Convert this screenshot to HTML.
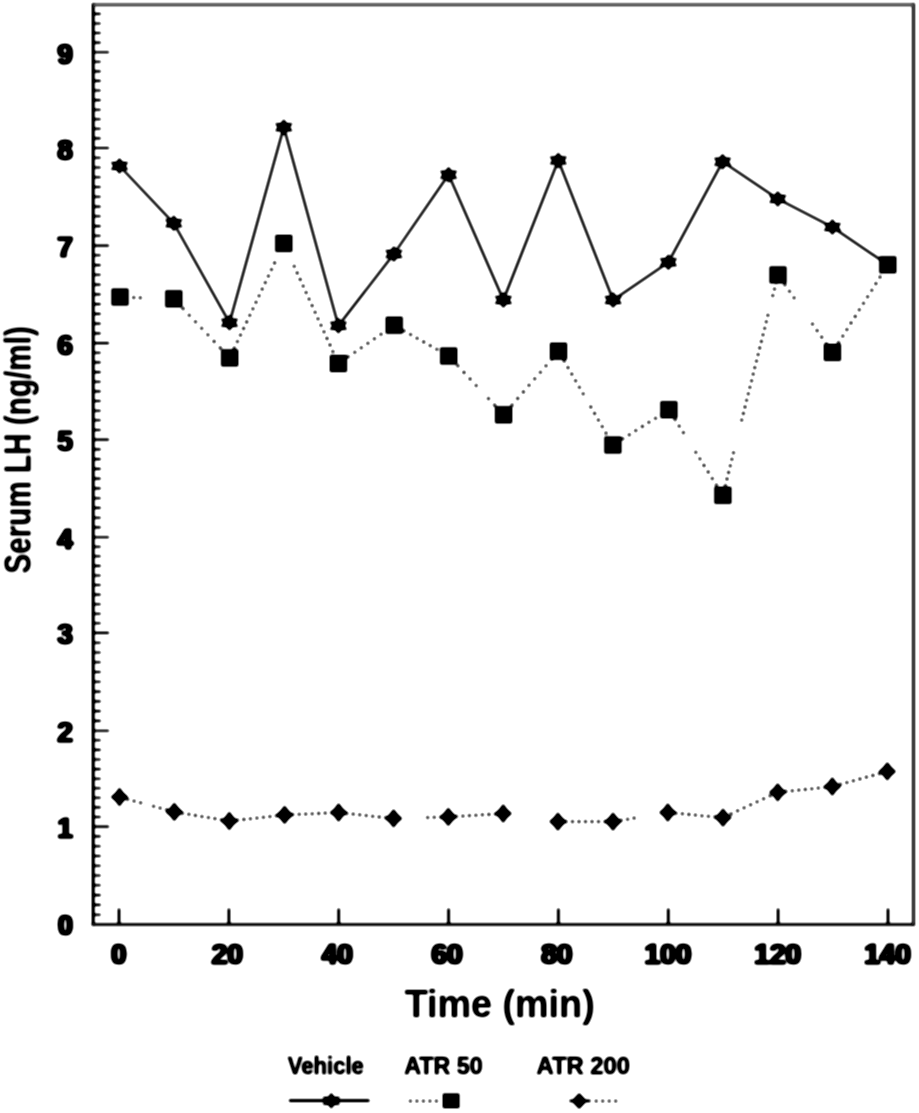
<!DOCTYPE html>
<html lang="en"><head><meta charset="utf-8"><title>Serum LH</title>
<style>html,body{margin:0;padding:0;background:#fff}body{width:919px;height:1113px;overflow:hidden}svg{display:block}text{font-family:"Liberation Sans",sans-serif;font-weight:bold;fill:#000}.tk{font-size:29.5px;stroke:#000;stroke-width:0.7px;stroke-linejoin:round;text-shadow:1px 0 0 #000,-1px 0 0 #000}.dt{fill:none;stroke:#111;stroke-linecap:round}.lg{font-size:24.5px;stroke:#000;stroke-width:0.5px}</style>
</head><body>
<svg width="919" height="1113" viewBox="0 0 919 1113">
<rect width="919" height="1113" fill="#fff"/>
<defs><filter id="soft" x="0" y="0" width="919" height="1113" filterUnits="userSpaceOnUse"><feGaussianBlur stdDeviation="0.9"/><feComponentTransfer><feFuncA type="linear" slope="1.7" intercept="-0.2"/></feComponentTransfer></filter></defs>
<g filter="url(#soft)">
<g stroke-linecap="butt" fill="none">
<line x1="92" y1="4.7" x2="915" y2="4.7" stroke="#646464" stroke-width="2.9"/>
<line x1="913.5" y1="3.2" x2="913.5" y2="925.7" stroke="#3a3a3a" stroke-width="3"/>
<line x1="93.2" y1="3.2" x2="93.2" y2="925.7" stroke="#000" stroke-width="2.7"/>
<line x1="91.7" y1="924.5" x2="915" y2="924.5" stroke="#111" stroke-width="2.5"/>
<path d="M93 914.7H100.7M93 904.9H100.7M93 895.1H100.7M93 885.3H100.7M93 875.5H100.7M93 865.8H100.7M93 856.0H100.7M93 846.2H100.7M93 836.4H100.7M93 826.6H109M93 817.0H100.7M93 807.4H100.7M93 797.8H100.7M93 788.2H100.7M93 778.7H100.7M93 769.1H100.7M93 759.5H100.7M93 749.9H100.7M93 740.3H100.7M93 730.7H109M93 720.9H100.7M93 711.1H100.7M93 701.4H100.7M93 691.6H100.7M93 681.8H100.7M93 672.0H100.7M93 662.2H100.7M93 652.5H100.7M93 642.7H100.7M93 632.9H109M93 623.3H100.7M93 613.8H100.7M93 604.2H100.7M93 594.6H100.7M93 585.0H100.7M93 575.5H100.7M93 565.9H100.7M93 556.3H100.7M93 546.8H100.7M93 537.2H109M93 527.4H100.7M93 517.7H100.7M93 507.9H100.7M93 498.2H100.7M93 488.4H100.7M93 478.6H100.7M93 468.9H100.7M93 459.1H100.7M93 449.4H100.7M93 439.6H109M93 430.0H100.7M93 420.3H100.7M93 410.7H100.7M93 401.0H100.7M93 391.4H100.7M93 381.7H100.7M93 372.1H100.7M93 362.4H100.7M93 352.8H100.7M93 343.1H109M93 333.4H100.7M93 323.6H100.7M93 313.9H100.7M93 304.1H100.7M93 294.4H100.7M93 284.6H100.7M93 274.8H100.7M93 265.1H100.7M93 255.3H100.7M93 245.6H109M93 235.8H100.7M93 226.1H100.7M93 216.3H100.7M93 206.6H100.7M93 196.8H100.7M93 187.0H100.7M93 177.3H100.7M93 167.5H100.7M93 157.8H100.7M93 148.0H109M93 138.4H100.7M93 128.8H100.7M93 119.3H100.7M93 109.7H100.7M93 100.1H100.7M93 90.5H100.7M93 80.9H100.7M93 71.4H100.7M93 61.8H100.7M93 52.2H109M93 42.6H100.7M93 33.0H100.7M93 23.5H100.7M93 13.9H100.7" stroke="#000" stroke-width="2.1"/>
<path d="M119.0 908.5V924.5M228.9 908.5V924.5M338.7 908.5V924.5M448.6 908.5V924.5M558.4 908.5V924.5M668.3 908.5V924.5M778.1 908.5V924.5M888.0 908.5V924.5" stroke="#000" stroke-width="2.5"/>
</g>
<text class="tk" transform="translate(72.8 935.4) scale(0.9 1)" text-anchor="end">0</text>
<text class="tk" transform="translate(72.8 838.1) scale(0.94 1)" text-anchor="end">1</text>
<text class="tk" transform="translate(72.8 742.2) scale(0.94 1)" text-anchor="end">2</text>
<text class="tk" transform="translate(72.8 644.4) scale(0.94 1)" text-anchor="end">3</text>
<text class="tk" transform="translate(72.8 548.7) scale(0.94 1)" text-anchor="end">4</text>
<text class="tk" transform="translate(72.8 451.1) scale(0.94 1)" text-anchor="end">5</text>
<text class="tk" transform="translate(72.8 354.6) scale(0.94 1)" text-anchor="end">6</text>
<text class="tk" transform="translate(72.8 257.1) scale(0.94 1)" text-anchor="end">7</text>
<text class="tk" transform="translate(72.8 159.5) scale(0.94 1)" text-anchor="end">8</text>
<text class="tk" transform="translate(72.8 63.7) scale(0.94 1)" text-anchor="end">9</text>
<text class="tk" transform="translate(118.8 964.4) scale(0.92 1)" text-anchor="middle">0</text>
<text class="tk" transform="translate(227.4 964.4) scale(0.95 1)" text-anchor="middle">20</text>
<text class="tk" transform="translate(337.2 964.4) scale(0.95 1)" text-anchor="middle">40</text>
<text class="tk" transform="translate(447.1 964.4) scale(0.95 1)" text-anchor="middle">60</text>
<text class="tk" transform="translate(556.9 964.4) scale(0.95 1)" text-anchor="middle">80</text>
<text class="tk" transform="translate(667.9 964.4) scale(0.95 1)" text-anchor="middle">100</text>
<text class="tk" transform="translate(777.7 964.4) scale(0.95 1)" text-anchor="middle">120</text>
<text class="tk" transform="translate(887.6 964.4) scale(0.95 1)" text-anchor="middle">140</text>
<text x="499.7" y="1016.5" text-anchor="middle" font-size="39" textLength="190" lengthAdjust="spacingAndGlyphs">Time (min)</text>
<text transform="translate(30.5 573.6) rotate(-90)" font-size="36" textLength="247.3" lengthAdjust="spacingAndGlyphs">Serum LH (ng/ml)</text>
<text class="lg" x="287.8" y="1073.6" textLength="76" lengthAdjust="spacingAndGlyphs">Vehicle</text>
<text class="lg" x="404.2" y="1073.6" textLength="78.5" lengthAdjust="spacingAndGlyphs">ATR 50</text>
<text class="lg" x="536.6" y="1073.6" textLength="93.3" lengthAdjust="spacingAndGlyphs">ATR 200</text>
<line x1="289" y1="1100.7" x2="369.5" y2="1100.7" stroke="#000" stroke-width="2.8"/>
<g fill="#000">
<polygon points="331.3,1092.8 334.3,1096.7 340.1,1096.8 337.3,1100.8 340.1,1104.8 334.3,1104.9 331.3,1108.8 328.3,1104.9 322.5,1104.8 325.3,1100.8 322.5,1096.8 328.3,1096.7"/>
<rect x="442.8" y="1093.5" width="16.6" height="14.6"/>
<polygon points="579.2,1092.9 583.0,1096.9 586.8,1100.9 583.0,1104.9 579.2,1108.9 575.4,1104.9 571.6,1100.9 575.4,1096.9"/>
<rect x="569.5" y="1099.6" width="21" height="2.6"/>
<path class="dt" stroke-width="3" d="M410.4 1100.9h0M416.9 1100.9h0M423.4 1100.9h0M429.9 1100.9h0M436.4 1100.9h0"/>
<path class="dt" stroke-width="3" d="M596.2 1100.9h0M602.7 1100.9h0M609.2 1100.9h0M615.7 1100.9h0"/>
</g>
<polyline fill="none" stroke="#000" stroke-width="2.1" stroke-linejoin="miter" points="119.5,165.9 173.8,223.3 229.5,322.7 283.8,127.2 338.4,325.7 393.9,254.0 448.6,174.7 503.4,300.0 558.3,160.4 613.1,300.0 668.4,262.3 722.6,161.7 777.8,198.9 832.4,227.1 887.8,264.8"/>
<path class="dt" stroke-width="3.1" d="M133.8 297.5h0M140.3 297.7h0M176.9 302.1h0M183.1 308.6h0M189.3 315.2h0M195.5 321.7h0M201.7 328.3h0M207.9 334.8h0M214.1 341.4h0M220.3 347.9h0M226.5 354.5h0M231.2 354.6h0M234.3 348.1h0M237.4 341.5h0M240.5 335.0h0M243.6 328.4h0M246.7 321.9h0M249.8 315.3h0M252.9 308.8h0M256.0 302.2h0M259.1 295.7h0M262.2 289.1h0M265.3 282.6h0M268.4 276.0h0M271.5 269.5h0M274.6 262.9h0M294.2 266.3h0M297.2 272.9h0M300.2 279.4h0M303.2 286.0h0M306.1 292.5h0M309.1 299.1h0M312.1 305.6h0M315.1 312.2h0M318.0 318.7h0M321.0 325.3h0M324.0 331.8h0M327.0 338.4h0M330.0 344.9h0M332.9 351.5h0M335.9 358.0h0M341.7 361.3h0M348.2 356.8h0M354.8 352.3h0M361.3 347.8h0M367.9 343.3h0M374.4 338.8h0M381.0 334.3h0M387.5 329.8h0M394.1 325.3h0M397.5 327.1h0M404.0 330.8h0M410.6 334.5h0M417.1 338.2h0M423.7 341.9h0M430.2 345.6h0M436.8 349.3h0M443.3 353.0h0M451.8 359.3h0M457.9 365.8h0M464.0 372.4h0M470.1 378.9h0M476.2 385.5h0M488.5 398.6h0M494.6 405.1h0M500.7 411.7h0M506.4 411.5h0M512.1 405.0h0M517.7 398.4h0M523.4 391.9h0M529.0 385.3h0M534.7 378.8h0M540.4 372.2h0M546.0 365.7h0M551.7 359.1h0M557.3 352.6h0M560.4 354.5h0M564.2 361.0h0M568.0 367.6h0M571.8 374.1h0M575.6 380.7h0M579.4 387.2h0M583.2 393.8h0M590.8 406.9h0M594.6 413.4h0M598.4 420.0h0M602.2 426.5h0M606.0 433.1h0M609.8 439.6h0M616.2 442.9h0M622.7 438.8h0M629.3 434.7h0M635.8 430.5h0M642.4 426.4h0M648.9 422.3h0M655.5 418.2h0M662.0 414.0h0M668.6 409.9h0M671.0 413.0h0M675.1 419.5h0M679.2 426.1h0M683.4 432.6h0M695.8 452.3h0M699.9 458.8h0M704.0 465.4h0M708.2 471.9h0M712.3 478.5h0M716.4 485.0h0M720.6 491.6h0M723.7 492.0h0M725.4 485.5h0M727.0 478.9h0M728.6 472.4h0M730.3 465.8h0M731.9 459.3h0M733.5 452.7h0M741.7 420.0h0M743.4 413.4h0M745.0 406.9h0M746.6 400.3h0M748.3 393.8h0M749.9 387.2h0M751.6 380.7h0M753.2 374.1h0M754.8 367.6h0M756.5 361.0h0M758.1 354.5h0M759.7 347.9h0M761.4 341.4h0M763.0 334.8h0M764.7 328.3h0M766.3 321.7h0M767.9 315.2h0M772.8 295.5h0M774.5 289.0h0M776.1 282.4h0M777.8 275.9h0M780.3 278.2h0M784.9 284.7h0M789.5 291.3h0M794.1 297.8h0M812.5 324.0h0M817.1 330.6h0M821.7 337.1h0M826.3 343.7h0M830.9 350.2h0M834.5 349.1h0M838.6 342.6h0M842.8 336.0h0M846.9 329.5h0M851.0 322.9h0M855.2 316.4h0M859.3 309.8h0M863.5 303.3h0M867.6 296.7h0M871.8 290.2h0M875.9 283.6h0M880.0 277.1h0M884.2 270.5h0"/>
<path class="dt" stroke-width="3.1" d="M121.1 797.4h0M127.6 799.2h0M134.1 801.0h0M140.6 802.7h0M153.6 806.3h0M160.1 808.0h0M166.6 809.8h0M173.1 811.6h0M175.9 812.2h0M182.4 813.2h0M188.9 814.3h0M195.4 815.4h0M201.9 816.5h0M208.4 817.5h0M214.9 818.6h0M221.4 819.7h0M227.9 820.8h0M230.9 820.8h0M237.4 820.1h0M243.9 819.4h0M250.4 818.7h0M256.9 818.0h0M263.4 817.2h0M269.9 816.5h0M276.4 815.8h0M282.9 815.1h0M286.2 814.8h0M292.7 814.5h0M299.2 814.3h0M305.7 814.0h0M312.2 813.7h0M318.7 813.4h0M325.2 813.1h0M331.7 812.8h0M338.2 812.5h0M340.2 812.7h0M346.7 813.4h0M353.2 814.1h0M359.7 814.8h0M366.2 815.5h0M372.7 816.2h0M379.2 816.9h0M385.7 817.6h0M392.2 818.2h0M427.7 817.5h0M434.2 817.3h0M440.7 817.1h0M447.2 816.9h0M449.9 816.8h0M456.4 816.4h0M462.9 816.0h0M469.4 815.6h0M475.9 815.2h0M482.4 814.8h0M488.9 814.4h0M495.4 814.0h0M501.9 813.6h0M559.5 821.6h0M566.0 821.6h0M572.5 821.6h0M579.0 821.6h0M585.5 821.6h0M592.0 821.6h0M598.5 821.6h0M605.0 821.6h0M611.5 821.6h0M614.6 821.3h0M621.1 820.3h0M627.6 819.2h0M634.1 818.1h0M669.4 812.6h0M675.9 813.2h0M682.4 813.8h0M688.9 814.4h0M695.4 815.0h0M701.9 815.7h0M708.4 816.3h0M714.9 816.9h0M721.4 817.5h0M724.6 816.9h0M731.1 813.9h0M737.6 810.8h0M744.1 807.8h0M750.6 804.8h0M757.1 801.8h0M763.6 798.8h0M770.1 795.8h0M776.6 792.8h0M779.3 792.1h0M785.8 791.4h0M792.3 790.7h0M798.8 790.1h0M805.3 789.4h0M811.8 788.7h0M818.3 788.0h0M824.8 787.3h0M831.3 786.6h0M833.9 786.1h0M840.4 784.3h0M846.9 782.5h0M853.4 780.7h0M859.9 778.9h0M866.4 777.1h0M872.9 775.4h0M879.4 773.6h0M885.9 771.8h0"/>
<g fill="#000">
<polygon points="119.5,157.9 122.6,161.7 128.3,161.9 125.7,165.9 128.3,169.9 122.6,170.1 119.5,173.9 116.4,170.1 110.7,169.9 113.3,165.9 110.7,161.9 116.4,161.7"/>
<polygon points="173.8,215.3 176.9,219.1 182.6,219.3 180.0,223.3 182.6,227.3 176.9,227.5 173.8,231.3 170.7,227.5 165.0,227.3 167.6,223.3 165.0,219.3 170.7,219.1"/>
<polygon points="229.5,314.7 232.6,318.5 238.3,318.7 235.7,322.7 238.3,326.7 232.6,326.9 229.5,330.7 226.4,326.9 220.7,326.7 223.3,322.7 220.7,318.7 226.4,318.5"/>
<polygon points="283.8,119.2 286.9,123.0 292.6,123.2 290.0,127.2 292.6,131.2 286.9,131.4 283.8,135.2 280.7,131.4 275.0,131.2 277.6,127.2 275.0,123.2 280.7,123.0"/>
<polygon points="338.4,317.7 341.5,321.5 347.2,321.7 344.6,325.7 347.2,329.7 341.5,329.9 338.4,333.7 335.3,329.9 329.6,329.7 332.2,325.7 329.6,321.7 335.3,321.5"/>
<polygon points="393.9,246.0 397.0,249.8 402.7,250.0 400.1,254.0 402.7,258.0 397.0,258.2 393.9,262.0 390.8,258.2 385.1,258.0 387.7,254.0 385.1,250.0 390.8,249.8"/>
<polygon points="448.6,166.7 451.7,170.5 457.4,170.7 454.8,174.7 457.4,178.7 451.7,178.9 448.6,182.7 445.5,178.9 439.8,178.7 442.4,174.7 439.8,170.7 445.5,170.5"/>
<polygon points="503.4,292.0 506.5,295.8 512.2,296.0 509.6,300.0 512.2,304.0 506.5,304.2 503.4,308.0 500.3,304.2 494.6,304.0 497.2,300.0 494.6,296.0 500.3,295.8"/>
<polygon points="558.3,152.4 561.4,156.2 567.1,156.4 564.5,160.4 567.1,164.4 561.4,164.6 558.3,168.4 555.2,164.6 549.5,164.4 552.1,160.4 549.5,156.4 555.2,156.2"/>
<polygon points="613.1,292.0 616.2,295.8 621.9,296.0 619.3,300.0 621.9,304.0 616.2,304.2 613.1,308.0 610.0,304.2 604.3,304.0 606.9,300.0 604.3,296.0 610.0,295.8"/>
<polygon points="668.4,254.3 671.5,258.1 677.2,258.3 674.6,262.3 677.2,266.3 671.5,266.5 668.4,270.3 665.3,266.5 659.6,266.3 662.2,262.3 659.6,258.3 665.3,258.1"/>
<polygon points="722.6,153.7 725.7,157.5 731.4,157.7 728.8,161.7 731.4,165.7 725.7,165.9 722.6,169.7 719.5,165.9 713.8,165.7 716.4,161.7 713.8,157.7 719.5,157.5"/>
<polygon points="777.8,190.9 780.9,194.7 786.6,194.9 784.0,198.9 786.6,202.9 780.9,203.1 777.8,206.9 774.7,203.1 769.0,202.9 771.6,198.9 769.0,194.9 774.7,194.7"/>
<polygon points="832.4,219.1 835.5,222.9 841.2,223.1 838.6,227.1 841.2,231.1 835.5,231.3 832.4,235.1 829.3,231.3 823.6,231.1 826.2,227.1 823.6,223.1 829.3,222.9"/>
<rect x="111.5" y="288.5" width="17.0" height="17.0"/>
<rect x="165.3" y="290.3" width="17.0" height="17.0"/>
<rect x="221.2" y="349.4" width="17.0" height="17.0"/>
<rect x="275.3" y="234.9" width="17.0" height="17.0"/>
<rect x="329.9" y="355.0" width="17.0" height="17.0"/>
<rect x="385.7" y="316.7" width="17.0" height="17.0"/>
<rect x="440.2" y="347.5" width="17.0" height="17.0"/>
<rect x="495.1" y="406.3" width="17.0" height="17.0"/>
<rect x="550.0" y="342.7" width="17.0" height="17.0"/>
<rect x="604.4" y="436.5" width="17.0" height="17.0"/>
<rect x="660.4" y="401.2" width="17.0" height="17.0"/>
<rect x="714.4" y="486.8" width="17.0" height="17.0"/>
<rect x="769.5" y="266.4" width="17.0" height="17.0"/>
<rect x="823.9" y="343.9" width="17.0" height="17.0"/>
<rect x="879.3" y="256.3" width="17.0" height="17.0"/>
<polygon points="119.5,787.6 123.5,792.7 128.2,797.0 123.5,801.3 119.5,806.4 115.5,801.3 110.8,797.0 115.5,792.7"/>
<polygon points="174.3,802.5 178.3,807.6 183.0,811.9 178.3,816.2 174.3,821.3 170.3,816.2 165.6,811.9 170.3,807.6"/>
<polygon points="229.3,811.6 233.3,816.7 238.0,821.0 233.3,825.3 229.3,830.4 225.3,825.3 220.6,821.0 225.3,816.7"/>
<polygon points="284.6,805.5 288.6,810.6 293.3,814.9 288.6,819.2 284.6,824.3 280.6,819.2 275.9,814.9 280.6,810.6"/>
<polygon points="338.6,803.1 342.6,808.2 347.3,812.5 342.6,816.8 338.6,821.9 334.6,816.8 329.9,812.5 334.6,808.2"/>
<polygon points="393.6,809.0 397.6,814.1 402.3,818.4 397.6,822.7 393.6,827.8 389.6,822.7 384.9,818.4 389.6,814.1"/>
<polygon points="448.3,807.5 452.3,812.6 457.0,816.9 452.3,821.2 448.3,826.3 444.3,821.2 439.6,816.9 444.3,812.6"/>
<polygon points="503.2,804.1 507.2,809.2 511.9,813.5 507.2,817.8 503.2,822.9 499.2,817.8 494.5,813.5 499.2,809.2"/>
<polygon points="557.9,812.2 561.9,817.3 566.6,821.6 561.9,825.9 557.9,831.0 553.9,825.9 549.2,821.6 553.9,817.3"/>
<polygon points="613.0,812.2 617.0,817.3 621.7,821.6 617.0,825.9 613.0,831.0 609.0,825.9 604.3,821.6 609.0,817.3"/>
<polygon points="667.8,803.1 671.8,808.2 676.5,812.5 671.8,816.8 667.8,821.9 663.8,816.8 659.1,812.5 663.8,808.2"/>
<polygon points="723.0,808.2 727.0,813.3 731.7,817.6 727.0,821.9 723.0,827.0 719.0,821.9 714.3,817.6 719.0,813.3"/>
<polygon points="777.7,782.9 781.7,788.0 786.4,792.3 781.7,796.6 777.7,801.7 773.7,796.6 769.0,792.3 773.7,788.0"/>
<polygon points="832.3,777.1 836.3,782.2 841.0,786.5 836.3,790.8 832.3,795.9 828.3,790.8 823.6,786.5 828.3,782.2"/>
<polygon points="887.3,762.0 891.3,767.1 896.0,771.4 891.3,775.7 887.3,780.8 883.3,775.7 878.6,771.4 883.3,767.1"/>
</g>
</g>
</svg></body></html>
